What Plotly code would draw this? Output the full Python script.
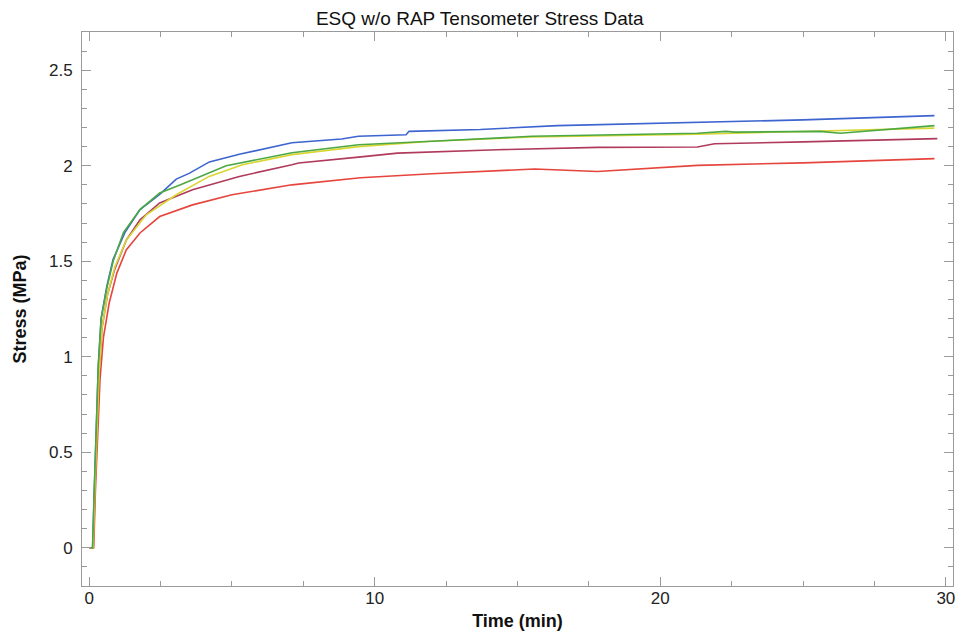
import plotly.graph_objects as go

# ---- data ----
blue_t = [0, 0.12, 0.18, 0.25, 0.32, 0.42, 0.62, 0.84, 1.25, 1.78, 2.47, 3.05, 3.5, 4.21, 5.26, 7.1, 8.84, 9.43, 11.1, 11.2, 13.7, 16.4, 21.3, 25.0, 29.6]
blue_s = [0, 0, 0.30, 0.65, 0.95, 1.20, 1.37, 1.51, 1.65, 1.77, 1.85, 1.93, 1.96, 2.02, 2.06, 2.12, 2.14, 2.154, 2.162, 2.18, 2.19, 2.21, 2.228, 2.24, 2.262]

green_t = [0, 0.12, 0.18, 0.25, 0.32, 0.42, 0.62, 0.84, 1.2, 1.78, 2.47, 3.2, 3.62, 4.8, 7.1, 9.43, 12.0, 15.5, 21.3, 22.3, 22.6, 25.6, 26.3, 29.6]
green_s = [0, 0, 0.30, 0.65, 0.95, 1.20, 1.36, 1.50, 1.65, 1.77, 1.857, 1.90, 1.927, 2.00, 2.068, 2.11, 2.128, 2.154, 2.17, 2.18, 2.176, 2.18, 2.17, 2.21]

yellow_t = [0, 0.14, 0.20, 0.27, 0.35, 0.45, 0.65, 0.9, 1.3, 2.0, 3.05, 4.2, 5.37, 7.1, 9.43, 12.0, 15.5, 21.3, 25.0, 29.6]
yellow_s = [0, 0, 0.30, 0.62, 0.92, 1.15, 1.33, 1.47, 1.61, 1.743, 1.848, 1.944, 2.005, 2.058, 2.10, 2.128, 2.15, 2.165, 2.18, 2.197]

purple_t = [0, 0.14, 0.20, 0.27, 0.35, 0.45, 0.65, 0.9, 1.3, 1.78, 2.47, 3.62, 5.26, 7.1, 7.34, 9.43, 10.8, 14.3, 17.8, 21.3, 21.9, 25.0, 29.7]
purple_s = [0, 0, 0.30, 0.62, 0.92, 1.15, 1.33, 1.46, 1.61, 1.717, 1.805, 1.874, 1.944, 2.005, 2.014, 2.045, 2.066, 2.084, 2.096, 2.098, 2.115, 2.125, 2.142]

red_t = [0, 0.16, 0.22, 0.30, 0.38, 0.50, 0.70, 0.97, 1.3, 1.78, 2.47, 3.62, 5.0, 7.1, 9.5, 12.0, 15.6, 17.8, 21.3, 25.0, 29.6]
red_s = [0, 0, 0.30, 0.60, 0.88, 1.10, 1.28, 1.438, 1.559, 1.648, 1.734, 1.795, 1.848, 1.90, 1.937, 1.958, 1.983, 1.97, 2.002, 2.015, 2.037]

series = [
    ("Sample 1", blue_t, blue_s, "#3d64cf"),
    ("Sample 2", purple_t, purple_s, "#b03a5c"),
    ("Sample 3", red_t, red_s, "#e5453c"),
    ("Sample 4", yellow_t, yellow_s, "#d9d634"),
    ("Sample 5", green_t, green_s, "#4ca844"),
]

x_ticks = [0, 10, 20, 30]
y_ticks = [0, 0.5, 1, 1.5, 2, 2.5]
y_labels = ["0", "0.5", "1", "1.5", "2", "2.5"]

fig = go.Figure()
for name, t, s, c in series:
    fig.add_trace(go.Scatter(x=t, y=s, mode="lines", name=name,
                             line=dict(color=c, width=1.6)))

axis_common = dict(
    showline=True, linecolor="#9a9a9a", linewidth=1, mirror="ticks",
    ticks="inside", ticklen=9, tickcolor="#9a9a9a", showgrid=False, zeroline=False,
    automargin=False,
    tickfont=dict(family="Liberation Sans, Arial", size=17, color="#222"),
)

fig.update_layout(
    width=957, height=623,
    margin=dict(l=74, r=12, t=24, b=45),
    paper_bgcolor="white", plot_bgcolor="white",
    showlegend=False,
    title=dict(text="ESQ w/o RAP Tensometer Stress Data", x=0.493, xanchor="center",
               y=0.984, yanchor="middle",
               font=dict(family="Liberation Sans, Arial", size=19, color="#111")),
    xaxis=dict(range=[-0.25, 30.25], tickvals=x_ticks, ticktext=[str(v) for v in x_ticks],
               ticklabelstandoff=-3,
               minor=dict(dtick=2.5, ticks="inside", ticklen=5, tickcolor="#9a9a9a", tick0=0),
               title=dict(text="<b>Time (min)</b>", standoff=9,
                          font=dict(family="Liberation Sans, Arial", size=18, color="#111")),
               **axis_common),
    yaxis=dict(range=[-0.2, 2.7], tickvals=y_ticks, ticktext=y_labels,
               ticklabelstandoff=5,
               minor=dict(dtick=0.1, ticks="inside", ticklen=5, tickcolor="#9a9a9a", tick0=0),
               title=dict(text="<b>Stress (MPa)</b>", standoff=17,
                          font=dict(family="Liberation Sans, Arial", size=18, color="#111")),
               **axis_common),
)

fig.write_html("out.html")
